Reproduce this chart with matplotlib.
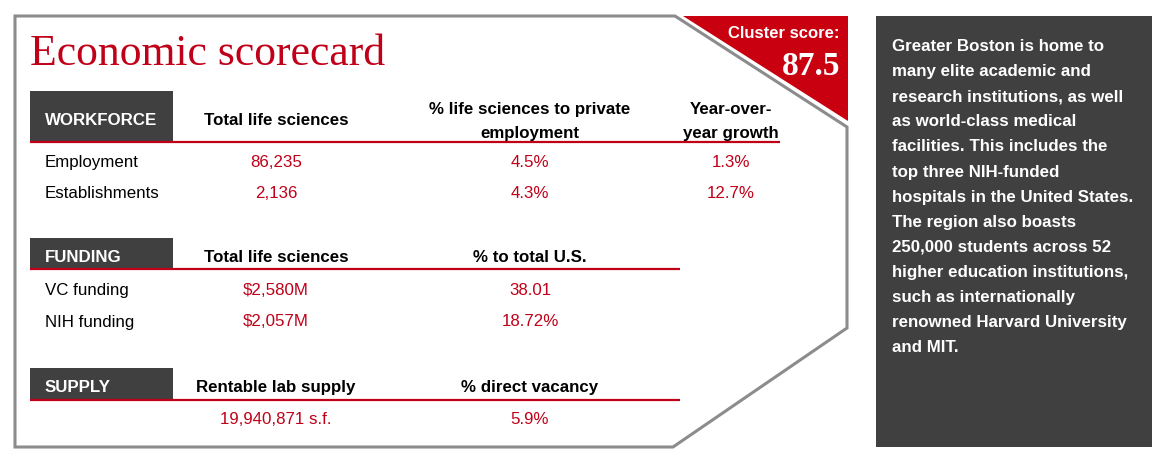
import matplotlib
matplotlib.use("Agg")
import matplotlib.pyplot as plt
from matplotlib import font_manager
from matplotlib.patches import Polygon, Rectangle

# --- Data ---
title = "Economic scorecard"
cluster_label = "Cluster score:"
cluster_score = "87.5"

workforce_cols = ["Total life sciences", "% life sciences to private\nemployment", "Year-over-\nyear growth"]
workforce_rows = ["Employment", "Establishments"]
workforce_total = ["86,235", "2,136"]
workforce_share = ["4.5%", "4.3%"]
workforce_growth = ["1.3%", "12.7%"]

funding_cols = ["Total life sciences", "% to total U.S."]
funding_rows = ["VC funding", "NIH funding"]
funding_total = ["$2,580M", "$2,057M"]
funding_share = ["38.01", "18.72%"]

supply_cols = ["Rentable lab supply", "% direct vacancy"]
supply_rows = [""]
supply_total = ["19,940,871 s.f."]
supply_vacancy = ["5.9%"]

blurb = [
    "Greater Boston is home to",
    "many elite academic and",
    "research institutions, as well",
    "as world-class medical",
    "facilities. This includes the",
    "top three NIH-funded",
    "hospitals in the United States.",
    "The region also boasts",
    "250,000 students across 52",
    "higher education institutions,",
    "such as internationally",
    "renowned Harvard University",
    "and MIT.",
]

# --- Style ---
names = {f.name for f in font_manager.fontManager.ttflist}
SANS = "Liberation Sans Narrow" if "Liberation Sans Narrow" in names else "Liberation Sans"
SERIF = "Liberation Serif"
RED = "#c00018"
DARK = "#404040"
GRAY = "#8c8c8c"
FS = 14.3 if SANS.endswith("Narrow") else 12.2

fig = plt.figure(figsize=(11.67, 4.63), dpi=100)
ax = fig.add_axes([0, 0, 1, 1])
ax.set_xlim(0, 1167)
ax.set_ylim(463, 0)
ax.axis("off")

# red corner + frame
ax.add_patch(Polygon([(683, 16), (848, 16), (848, 121)], closed=True,
                     facecolor="#c8000f", edgecolor="none", zorder=1))
ax.add_patch(Polygon([(15, 16), (675, 16), (847, 127), (847, 328), (673, 447), (15, 447)],
                     closed=True, facecolor="none", edgecolor=GRAY, lw=2.2, zorder=2))

ax.text(30, 65, title, family=SERIF, fontsize=31.5, color=RED, va="baseline")
ax.text(839, 38, cluster_label, family=SANS, fontsize=FS - 0.2, weight="bold", color="white",
        ha="right", va="baseline")
ax.text(840, 75, cluster_score, family=SERIF, fontsize=24, weight="bold", color="white",
        ha="right", va="baseline")

col_x = [276, 530, 731]


def section(name, box_top, box_bot, line_end, cols, name_base, two_base,
            rows, values, row_base):
    ax.add_patch(Rectangle((30, box_top), 143, box_bot - box_top, facecolor=DARK,
                           edgecolor="none", zorder=2))
    ax.plot([30, line_end], [box_bot, box_bot], color=RED, lw=1.6, zorder=3,
            solid_capstyle="butt")
    ax.text(45, name_base, name, family=SANS, fontsize=FS, weight="bold",
            color="white", va="baseline", zorder=4)
    for x, c in zip(col_x, cols):
        parts = c.split("\n")
        bases = [name_base] if len(parts) == 1 else two_base
        for p, b in zip(parts, bases):
            ax.text(x, b, p, family=SANS, fontsize=FS, weight="bold", color="black",
                    ha="center", va="baseline")
    for i, r in enumerate(rows):
        y = row_base + i * 31.5
        ax.text(45, y, r, family=SANS, fontsize=FS, color="black", va="baseline")
        for x, vals in zip(col_x, values):
            ax.text(x, y, vals[i], family=SANS, fontsize=FS, color=RED,
                    ha="center", va="baseline")


section("WORKFORCE", 91, 142, 780, workforce_cols, 125, [114, 138], workforce_rows,
        [workforce_total, workforce_share, workforce_growth], 167)
section("FUNDING", 238, 269, 680, funding_cols, 262, None, funding_rows,
        [funding_total, funding_share], 295)
section("SUPPLY", 368, 400, 680, supply_cols, 392, None, supply_rows,
        [supply_total, supply_vacancy], 424)

# right side panel
ax.add_patch(Rectangle((876, 16), 276, 431, facecolor=DARK, edgecolor="none"))
for i, line in enumerate(blurb):
    ax.text(892, 51 + i * 25.1, line, family=SANS, fontsize=FS, weight="bold",
            color="white", va="baseline")

fig.savefig("out.png", dpi=100, facecolor="white")
